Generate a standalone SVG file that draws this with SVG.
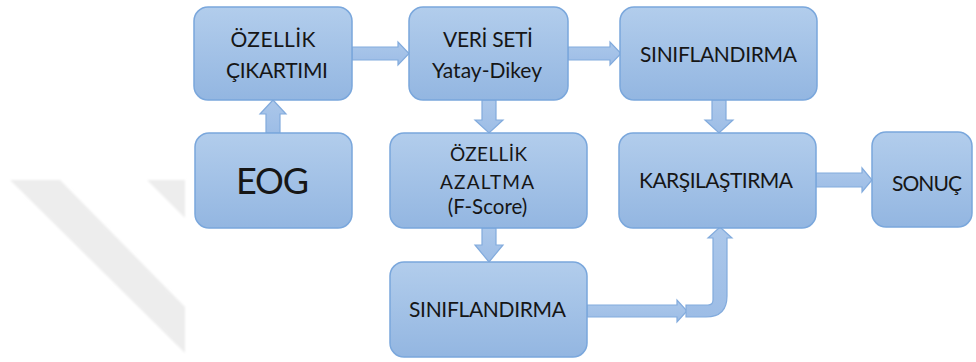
<svg xmlns="http://www.w3.org/2000/svg" width="976" height="362" viewBox="0 0 976 362">
  <defs>
    <linearGradient id="boxFill" x1="0" y1="0" x2="0" y2="1">
      <stop offset="0" stop-color="#b2cdec"/>
      <stop offset="1" stop-color="#93b6e1"/>
    </linearGradient>
    <linearGradient id="arrowFill" x1="0" y1="0" x2="0" y2="1">
      <stop offset="0" stop-color="#abc7ea"/>
      <stop offset="1" stop-color="#9dbde6"/>
    </linearGradient>
    <filter id="soft" x="-10%" y="-10%" width="120%" height="120%">
      <feGaussianBlur stdDeviation="1"/>
    </filter>
    <style>
      .box { fill: url(#boxFill); stroke: #7aa7dc; stroke-width: 1.5; }
      .arrow { fill: url(#arrowFill); stroke: #82abdd; stroke-width: 1.2; stroke-linejoin: miter; }
      .lbl { font-family: Lato, "Open Sans", "Liberation Sans", sans-serif; fill: #161616; text-anchor: middle; }
      .big { font-size: 21px; }
      .mid { font-size: 19px; }
      .par { font-size: 20.5px; }
      .huge { font-size: 36px; }
      .mark { fill: #ededed; }
    </style>
  </defs>

  <!-- faint background mark -->
  <g id="backdrop" filter="url(#soft)">
    <polygon class="mark" points="10,180 60,180 185,307 185,353"/>
    <polygon class="mark" points="147,180 185,180 185,218"/>
  </g>

  <!-- block arrows between the steps -->
  <g id="connectors">
    <path class="arrow" d="M352,47 H398 V42 L409,53.5 L398,65 V60 H352 Z"/>
    <path class="arrow" d="M266,133 V114 H260 L273,100 L286,114 H280 V133 Z"/>
    <path class="arrow" d="M482,100 V120 H475 L489,133 L503,120 H496 V100 Z"/>
    <path class="arrow" d="M568,47 H610 V42 L621,53.5 L610,65 V60 H568 Z"/>
    <path class="arrow" d="M712,100 V120 H705 L719,133 L733,120 H726 V100 Z"/>
    <path class="arrow" d="M482,228 V245 H475 L489,262 L503,245 H496 V228 Z"/>
    <path class="arrow" d="M816,173 H862 V168 L872,180 L862,192 V187 H816 Z"/>
    <path class="arrow" d="M587,305 H677 V300 L687,311 L677,322 V317 H587 Z"/>
    <path class="arrow" d="M686,305 H708 Q713,305 713,300 V238 H708 L720,227 L732,238 H727 V296 Q727,317 706,317 H686 Z"/>
  </g>

  <g id="feature-extraction">
    <rect class="box" x="194" y="7" width="158" height="93" rx="14"/>
    <text class="lbl big" x="273" y="47" textLength="85" lengthAdjust="spacing">ÖZELLİK</text>
    <text class="lbl big" x="277" y="78" textLength="102" lengthAdjust="spacing">ÇIKARTIMI</text>
  </g>

  <g id="dataset">
    <rect class="box" x="409" y="7" width="159" height="93" rx="14"/>
    <text class="lbl big" x="488" y="47" textLength="90" lengthAdjust="spacing">VERİ SETİ</text>
    <text class="lbl big" x="487" y="78" textLength="110" lengthAdjust="spacing">Yatay-Dikey</text>
  </g>

  <g id="classify-top">
    <rect class="box" x="620" y="7" width="197" height="93" rx="14"/>
    <text class="lbl big" x="718.5" y="62" textLength="157" lengthAdjust="spacing">SINIFLANDIRMA</text>
  </g>

  <g id="eog">
    <rect class="box" x="195" y="133" width="157" height="95" rx="14"/>
    <text class="lbl huge" x="272.5" y="194" textLength="73" lengthAdjust="spacing">EOG</text>
  </g>

  <g id="feature-reduction">
    <rect class="box" x="390" y="133" width="197" height="95" rx="14"/>
    <text class="lbl mid" x="488.5" y="161" textLength="77" lengthAdjust="spacing">ÖZELLİK</text>
    <text class="lbl mid" x="487" y="189" textLength="94" lengthAdjust="spacing">AZALTMA</text>
    <text class="lbl par" x="487.5" y="214">(F-Score)</text>
  </g>

  <g id="compare">
    <rect class="box" x="619" y="133" width="197" height="95" rx="14"/>
    <text class="lbl big" x="716" y="188" textLength="154" lengthAdjust="spacing">KARŞILAŞTIRMA</text>
  </g>

  <g id="result">
    <rect class="box" x="872" y="132" width="100" height="95" rx="14"/>
    <text class="lbl big" x="927" y="191" textLength="70" lengthAdjust="spacing">SONUÇ</text>
  </g>

  <g id="classify-bottom">
    <rect class="box" x="390" y="262" width="197" height="95" rx="14"/>
    <text class="lbl big" x="487.5" y="317" textLength="157" lengthAdjust="spacing">SINIFLANDIRMA</text>
  </g>
</svg>
